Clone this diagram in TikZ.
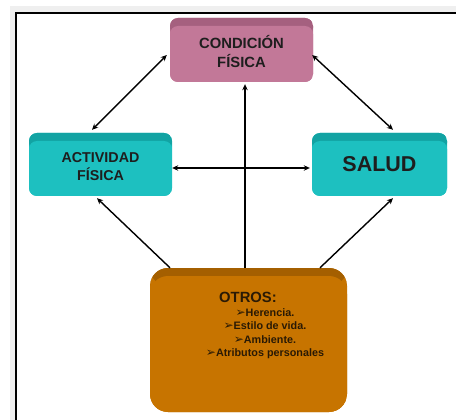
\documentclass[tikz,border=0pt]{standalone}
\usepackage{fontspec}
\setmainfont{Liberation Sans}
\newfontfamily\dejavu{DejaVu Sans}
\usetikzlibrary{arrows.meta}
\definecolor{pinkmain}{HTML}{C27898}
\definecolor{pinkdark}{HTML}{A5607F}
\definecolor{tealmain}{HTML}{1DC0C0}
\definecolor{tealdark}{HTML}{12A3A3}
\definecolor{orangemain}{HTML}{C77400}
\definecolor{orangedark}{HTML}{A45F00}
\definecolor{framegray}{HTML}{EFEFEF}
\definecolor{txtdark}{HTML}{1E1E1E}
\definecolor{txtbrown}{HTML}{2A1A05}
\newcommand{\bul}{{\dejavu\fontsize{12}{12}\selectfont ➢}}
\tikzset{
  bevelbox/.style n args={3}{
    rounded corners=#3, fill=#1, inner sep=0pt, align=center,
    text=txtdark, font=\bfseries,
    path picture={
      \fill[#2] (path picture bounding box.north west) rectangle
        ([yshift=-18pt]path picture bounding box.north east);
      \fill[#1, rounded corners=#3] ([yshift=-8pt]path picture bounding box.north west)
        rectangle (path picture bounding box.south east);
    }
  },
  link/.style={line width=1.4pt, draw=black},
  tip/.style={{Stealth[length=6pt,width=5.5pt]}-{Stealth[length=6pt,width=5.5pt]}},
  onetip/.style={-{Stealth[length=6pt,width=5.5pt]}}
}
\begin{document}
\begin{tikzpicture}[x=1pt,y=-1pt]
\useasboundingbox (0,0) rectangle (456,420);
\fill[white] (0,0) rectangle (456,420);
\fill[framegray] (10,6) rectangle (456,420);
\fill[white] (15,13) rectangle (456,420);
\draw[line width=2pt] (15.5,420) -- (15.5,13.5) -- (456,13.5);

\node[bevelbox={pinkmain}{pinkdark}{8pt}, minimum width=143pt, minimum height=64pt,
  font=\bfseries\fontsize{14.8}{19}\selectfont] (cf) at (241.5,50)
  {\rule{0pt}{6pt}\\[-8pt]CONDICIÓN\\FÍSICA};
\node[bevelbox={tealmain}{tealdark}{8pt}, minimum width=143pt, minimum height=63pt,
  font=\bfseries\fontsize{14.3}{18}\selectfont] (af) at (100.5,164.5)
  {\rule{0pt}{4pt}\\[-8pt]ACTIVIDAD\\FÍSICA};
\node[bevelbox={tealmain}{tealdark}{8pt}, minimum width=135pt, minimum height=63pt,
  font=\bfseries\fontsize{21.5}{24}\selectfont] (sa) at (379.5,164.5) {SALUD};
\node[bevelbox={orangemain}{orangedark}{18pt}, minimum width=197pt, minimum height=144pt] (ot) at (248.5,340) {};

\node[font=\bfseries\fontsize{14.8}{17}\selectfont, text=txtbrown] (ottitle) at (248,297) {OTROS:};
\node[font=\bfseries\fontsize{10.8}{13.5}\selectfont, text=txtbrown, align=center, anchor=north] (otlist) at (265,305)
  {\bul Herencia.\\ \bul Estilo de vida.\\ \bul Ambiente.\\ \bul Atributos personales};

\draw[link, tip] ([xshift=-3pt,yshift=-5pt]cf.west) -- ([xshift=-8.5pt,yshift=3pt]af.north);
\draw[link, tip] ([xshift=-1pt,yshift=-5pt]cf.east) -- ([xshift=13.5pt,yshift=3pt]sa.north);
\draw[link, tip] ([yshift=-3.5pt]af.east) -- ([xshift=-2pt,yshift=-3.5pt]sa.west);
\draw[link, onetip] ([xshift=-3.5pt]ot.north) -- ([xshift=3.5pt,yshift=-2pt]cf.south);
\draw[link, onetip] ([xshift=-78.5pt]ot.north) -- ([xshift=-3.5pt,yshift=-2pt]af.south);
\draw[link, onetip] ([xshift=71.5pt]ot.north) -- ([xshift=13.5pt,yshift=-2pt]sa.south);
\end{tikzpicture}
\end{document}
